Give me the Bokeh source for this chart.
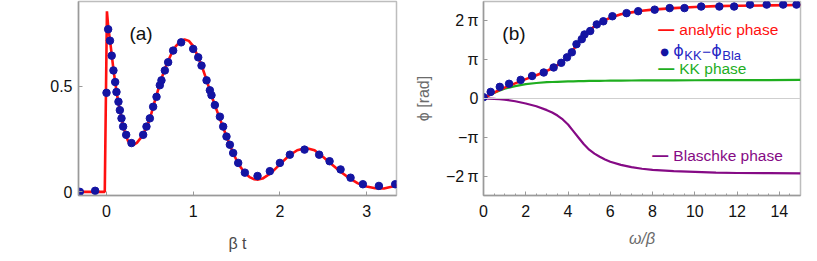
from bokeh.plotting import figure
from bokeh.layouts import row
from bokeh.models import FixedTicker, Label, Span, Range1d
from bokeh.embed import file_html
from bokeh.resources import INLINE

# ---------------- panel (a) data ----------------
a_curve_t = [-0.33, -0.02, 0.005, 0.02, 0.04, 0.06, 0.08, 0.10, 0.125, 0.15, 0.175, 0.20,
             0.225, 0.25, 0.28, 0.31, 0.35, 0.40, 0.45, 0.50, 0.55, 0.60, 0.65, 0.70,
             0.75, 0.80, 0.85, 0.90, 0.95, 1.00, 1.05, 1.10, 1.15, 1.20, 1.25, 1.30,
             1.35, 1.40, 1.45, 1.50, 1.55, 1.60, 1.65, 1.70, 1.75, 1.80, 1.90, 2.00,
             2.10, 2.20, 2.30, 2.40, 2.50, 2.60, 2.70, 2.80, 2.90, 3.00, 3.10, 3.20,
             3.30, 3.35]
a_curve_y = [0.0, 0.0, 0.855, 0.78, 0.72, 0.65, 0.58, 0.52, 0.45, 0.395, 0.345, 0.30,
             0.265, 0.24, 0.226, 0.222, 0.232, 0.258, 0.295, 0.345, 0.42, 0.49, 0.555, 0.61,
             0.655, 0.69, 0.712, 0.722, 0.715, 0.69, 0.645, 0.595, 0.535, 0.47, 0.41, 0.355,
             0.30, 0.245, 0.195, 0.15, 0.115, 0.087, 0.07, 0.06, 0.058, 0.063, 0.09, 0.13,
             0.17, 0.197, 0.208, 0.197, 0.165, 0.13, 0.095, 0.065, 0.04, 0.025, 0.017, 0.016,
             0.025, 0.032]
a_dots_t = [-0.308, -0.131, 0.0, 0.019, 0.04, 0.06, 0.08, 0.10, 0.115, 0.138, 0.154, 0.173,
            0.192, 0.227, 0.288, 0.423, 0.461, 0.50, 0.538, 0.577, 0.615, 0.634, 0.673, 0.711,
            0.769, 0.861, 1.0, 1.058, 1.096, 1.154, 1.192, 1.211, 1.25, 1.308, 1.346, 1.384,
            1.423, 1.461, 1.519, 1.596, 1.742, 1.884, 2.0, 2.115, 2.284, 2.453, 2.573, 2.70,
            2.815, 2.957, 3.142, 3.33]
a_dots_y = [0.0, 0.005, 0.469, 0.77, 0.716, 0.645, 0.575, 0.52, 0.473, 0.427, 0.387, 0.348,
            0.309, 0.27, 0.231, 0.27, 0.309, 0.348, 0.403, 0.45, 0.505, 0.528, 0.575, 0.614,
            0.669, 0.708, 0.677, 0.637, 0.598, 0.528, 0.481, 0.458, 0.411, 0.356, 0.309, 0.262,
            0.223, 0.184, 0.137, 0.091, 0.075, 0.098, 0.137, 0.176, 0.20, 0.176, 0.145, 0.106,
            0.067, 0.036, 0.028, 0.036]
a_xticks = [0, 1, 2, 3]
a_yticks = [0, 0.5]
a_ytick_labels = ["0", "0.5"]

# ---------------- panel (b) data (phases in units of pi) ----------------
b_freq = [0, 0.25, 0.5, 0.75, 1, 1.5, 2, 2.5, 3, 3.25, 3.5, 3.75, 4, 4.25, 4.5, 4.75,
          5, 5.25, 5.5, 5.75, 6, 6.5, 7, 7.5, 8, 9, 10, 11, 12, 13.5, 15]
b_analytic = [0, 0.078, 0.15, 0.22, 0.28, 0.39, 0.50, 0.60, 0.71, 0.78, 0.86, 0.95, 1.08,
              1.26, 1.44, 1.61, 1.75, 1.86, 1.95, 2.02, 2.08, 2.17, 2.22, 2.26, 2.29, 2.33,
              2.36, 2.38, 2.39, 2.40, 2.41]
b_kk = [0, 0.075, 0.14, 0.20, 0.25, 0.32, 0.37, 0.40, 0.42, 0.425, 0.43, 0.435, 0.44,
        0.443, 0.446, 0.449, 0.452, 0.454, 0.456, 0.458, 0.46, 0.462, 0.464, 0.466, 0.467,
        0.469, 0.471, 0.473, 0.474, 0.476, 0.478]
b_blaschke = [0, -0.003, -0.01, -0.02, -0.03, -0.07, -0.13, -0.20, -0.30, -0.36, -0.44,
              -0.54, -0.67, -0.84, -1.01, -1.18, -1.32, -1.42, -1.50, -1.57, -1.63, -1.71,
              -1.77, -1.81, -1.84, -1.87, -1.89, -1.91, -1.92, -1.925, -1.93]
b_dots_w = [0, 0.34, 0.77, 1.21, 1.76, 2.30, 2.85, 3.32, 3.68, 3.95, 4.18, 4.40, 4.65, 4.78,
            5.05, 5.36, 5.67, 6.10, 6.77, 7.32, 8.10, 8.81, 9.51, 10.30, 11.16, 11.86, 12.61,
            13.40, 14.18, 14.81]
b_dots_phi = [0.034, 0.17, 0.30, 0.38, 0.48, 0.58, 0.67, 0.80, 0.92, 1.06, 1.19, 1.40, 1.53,
              1.65, 1.74, 1.91, 1.99, 2.12, 2.20, 2.25, 2.29, 2.33, 2.33, 2.37, 2.37, 2.37,
              2.42, 2.42, 2.42, 2.42]
b_xticks = [0, 2, 4, 6, 8, 10, 12, 14]
b_xminor = [0.5, 1, 1.5, 2.5, 3, 3.5, 4.5, 5, 5.5, 6.5, 7, 7.5, 8.5, 9, 9.5, 10.5, 11,
            11.5, 12.5, 13, 13.5, 14.5]
b_yticks = [-2, -1, 0, 1, 2]
b_ytick_labels = ["\u22122\u2009\u03c0", "\u2212\u03c0", "0", "\u03c0", "2\u2009\u03c0"]

FONT = "Liberation Sans"
AXIS_C = "#9a9a9a"
OUTLINE_C = "#bdbdbd"
TICK_TXT = "#111111"
LABEL_C = "#6b6b6b"
RED = "#ff1010"
BLUE_DOT = "#1414a2"
BLUE_TXT = "#2626c4"
GREEN = "#1fae1f"
PURPLE = "#850a85"


def style(p):
    p.grid.visible = False
    p.outline_line_color = OUTLINE_C
    p.outline_line_width = 1.5
    for ax in (p.xaxis[0], p.yaxis[0]):
        ax.axis_line_color = AXIS_C
        ax.axis_line_width = 1.5
        ax.major_tick_line_color = AXIS_C
        ax.minor_tick_line_color = AXIS_C
        ax.major_tick_in = 4
        ax.major_tick_out = 0
        ax.minor_tick_in = 2
        ax.minor_tick_out = 0
        ax.major_label_text_font = FONT
        ax.major_label_text_font_size = "16px"
        ax.major_label_text_color = TICK_TXT
        ax.axis_label_text_font = FONT
        ax.axis_label_text_font_size = "16px"
        ax.axis_label_text_color = LABEL_C
        ax.axis_label_text_font_style = "normal"


# ---------------- panel (a) ----------------
pa = figure(width=412, height=254, output_backend="svg", toolbar_location=None,
            x_range=Range1d(-0.323, 3.345), y_range=Range1d(-0.0173, 0.9015),
            min_border_left=78, min_border_right=16, min_border_top=1, min_border_bottom=57)
style(pa)
pa.line(a_curve_t, a_curve_y, line_color=RED, line_width=2.6)
pa.scatter(a_dots_t, a_dots_y, size=7.5, fill_color=BLUE_DOT, line_color=BLUE_DOT)
pa.xaxis.ticker = FixedTicker(ticks=a_xticks)
pa.yaxis.ticker = FixedTicker(ticks=a_yticks)
pa.yaxis.major_label_overrides = {k: v for k, v in zip(a_yticks, a_ytick_labels)}
pa.xaxis.minor_tick_line_color = None
pa.yaxis.minor_tick_line_color = None
pa.xaxis.major_label_standoff = 9
pa.yaxis.major_label_standoff = 6
pa.xaxis.axis_label = "\u03b2 t"
pa.xaxis.axis_label_text_color = "#4a4a4a"
pa.xaxis.axis_label_standoff = 15
pa.add_layout(Label(x=0.265, y=0.751, text="(a)", text_font=FONT, text_font_size="19px",
                    text_color="#111111", text_baseline="middle"))

# ---------------- panel (b) ----------------
pb = figure(width=397, height=254, output_backend="svg", toolbar_location=None,
            x_range=Range1d(0, 15), y_range=Range1d(-2.5, 2.5),
            min_border_left=69, min_border_right=9, min_border_top=1, min_border_bottom=57)
style(pb)
pb.add_layout(Span(location=0, dimension="width", line_color="#cfcfcf", line_width=1.2))
pb.line(b_freq, b_kk, line_color=GREEN, line_width=2.2)
pb.line(b_freq, b_blaschke, line_color=PURPLE, line_width=2.2)
pb.line(b_freq, b_analytic, line_color=RED, line_width=2.6)
pb.scatter(b_dots_w, b_dots_phi, size=7.5, fill_color=BLUE_DOT, line_color=BLUE_DOT)
pb.xaxis.ticker = FixedTicker(ticks=b_xticks, minor_ticks=b_xminor)
pb.yaxis.ticker = FixedTicker(ticks=b_yticks)
pb.yaxis.major_label_overrides = {k: v for k, v in zip(b_yticks, b_ytick_labels)}
pb.yaxis.minor_tick_line_color = None
pb.xaxis.major_label_standoff = 9
pb.yaxis.major_label_standoff = 5
pb.xaxis.axis_label = "\u03c9/\u03b2"
pb.xaxis.axis_label_text_font_style = "italic"
pb.xaxis.axis_label_standoff = 10
pb.yaxis.axis_label = "\u03d5 [rad]"
pb.yaxis.axis_label_standoff = 11

pb.add_layout(Label(x=0.89, y=1.68, text="(b)", text_font=FONT, text_font_size="19px",
                    text_color="#111111", text_baseline="middle"))

leg = dict(text_font=FONT, text_font_size="15.5px", text_baseline="middle")
dash = dict(text="\u2014", text_font=FONT, text_font_size="16px", text_font_style="bold",
            text_baseline="middle")
legend_rows = [(8.27, 1.786, "analytic phase", RED),
               (8.27, 0.765, "KK phase", GREEN),
               (7.99, -1.48, "Blaschke phase", PURPLE)]
for lxx, lyy, txt, col in legend_rows:
    pb.add_layout(Label(x=lxx, y=lyy, text_color=col, **dash))
    pb.add_layout(Label(x=lxx, y=lyy, x_offset=21, text=txt, text_color=col, **leg))

# dot marker of legend + composed label phi_KK - phi_Bla
lx, ly = 8.98, 1.199
pb.add_layout(Label(x=lx, y=ly, x_offset=-13, text="\u25cf", text_color=BLUE_DOT,
                    text_font="DejaVu Sans", text_font_size="10px", text_baseline="middle"))
pb.add_layout(Label(x=lx, y=ly, x_offset=0, y_offset=1, text="\u03d5", text_color=BLUE_TXT,
                    text_font="DejaVu Sans", text_font_size="16px", text_baseline="middle"))
pb.add_layout(Label(x=lx, y=ly, x_offset=11, y_offset=-4, text="KK", text_color=BLUE_TXT,
                    text_font=FONT, text_font_size="13px", text_baseline="middle"))
pb.add_layout(Label(x=lx, y=ly, x_offset=29, y_offset=0, text="\u2212", text_color=BLUE_TXT,
                    text_font=FONT, text_font_size="15px", text_baseline="middle"))
pb.add_layout(Label(x=lx, y=ly, x_offset=38, y_offset=1, text="\u03d5", text_color=BLUE_TXT,
                    text_font="DejaVu Sans", text_font_size="16px", text_baseline="middle"))
pb.add_layout(Label(x=lx, y=ly, x_offset=49, y_offset=-4, text="Bla", text_color=BLUE_TXT,
                    text_font=FONT, text_font_size="13px", text_baseline="middle"))

layout = row(pa, pb)
open("out.html", "w").write(file_html(layout, INLINE))
